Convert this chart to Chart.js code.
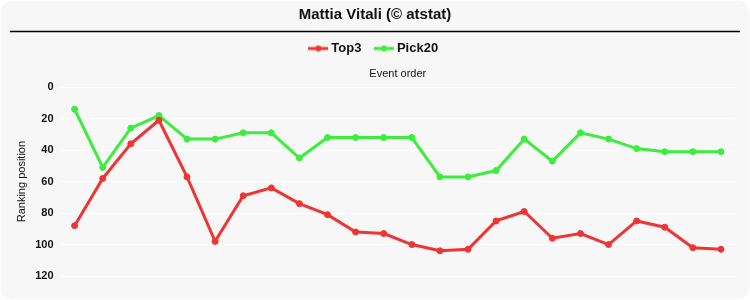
<!DOCTYPE html>
<html>
<head>
<meta charset="utf-8">
<script src="https://cdn.jsdelivr.net/npm/chart.js@4/dist/chart.umd.min.js"></script>
<style>
  html, body { margin: 0; padding: 0; background: #ffffff; }
  #wrap { width: 750px; height: 300px; position: relative; }
</style>
</head>
<body>
<div id="wrap"><canvas id="rankChart"></canvas></div>
<script>
// event order 1..24
const events = Array.from({ length: 24 }, (_, i) => String(i + 1));
const top3 = [88, 58, 36, 21, 57, 98, 69, 64, 74, 81, 92, 93, 100, 104, 103, 85, 79, 96, 93, 100, 85, 89, 102, 103];
const pick20 = [14, 51, 26, 18, 33, 33, 29, 29, 45, 32, 32, 32, 32, 57, 57, 53, 33, 47, 29, 33, 39, 41, 41, 41];
const yTicks = [0, 20, 40, 60, 80, 100, 120];

const RED = '#ef3434';
const GREEN = '#3ded3d';
const sans = "'Liberation Sans', Arial, sans-serif";

// little "line with a dot" marker for the legend
function legendMarker(color) {
  const c = document.createElement('canvas');
  c.width = 20;
  c.height = 8;
  const g = c.getContext('2d');
  g.strokeStyle = color;
  g.lineWidth = 3;
  g.beginPath();
  g.moveTo(0, 4);
  g.lineTo(20, 4);
  g.stroke();
  g.fillStyle = color;
  g.beginPath();
  g.arc(10, 4, 3, 0, Math.PI * 2);
  g.fill();
  return c;
}

// panel background + title underline
const panelPlugin = {
  id: 'panel',
  beforeDraw(chart) {
    const ctx = chart.ctx;
    ctx.save();
    ctx.fillStyle = '#f7f7f7';
    ctx.beginPath();
    ctx.roundRect(0.5, 0.5, chart.width - 1, chart.height - 1, 12);
    ctx.fill();
    ctx.restore();
  },
  afterDraw(chart) {
    const ctx = chart.ctx;
    ctx.save();
    ctx.strokeStyle = '#000000';
    ctx.lineWidth = 1.5;
    ctx.beginPath();
    ctx.moveTo(10, 31.5);
    ctx.lineTo(740, 31.5);
    ctx.stroke();
    ctx.restore();
  }
};

const rankCtx = document.getElementById('rankChart');
const rankChart = new Chart(rankCtx, {
  type: 'line',
  data: {
    labels: events,
    datasets: [
      {
        label: 'Top3',
        data: top3,
        borderColor: RED,
        backgroundColor: RED,
        borderWidth: 3,
        pointRadius: 3,
        pointBorderWidth: 1,
        pointHoverRadius: 4,
        pointStyle: 'circle',
        tension: 0
      },
      {
        label: 'Pick20',
        data: pick20,
        borderColor: GREEN,
        backgroundColor: GREEN,
        borderWidth: 3,
        pointRadius: 3,
        pointBorderWidth: 1,
        pointHoverRadius: 4,
        pointStyle: 'circle',
        tension: 0
      }
    ]
  },
  options: {
    responsive: true,
    maintainAspectRatio: false,
    animation: false,
    layout: { padding: { left: 15, right: 15, top: 0, bottom: 24 } },
    plugins: {
      title: {
        display: true,
        text: 'Mattia Vitali (© atstat)',
        color: '#111111',
        font: { family: sans, size: 15, weight: 'bold' },
        padding: { top: 6, bottom: 2 }
      },
      legend: {
        position: 'top',
        labels: {
          color: '#111111',
          font: { family: sans, size: 13, weight: 'bold' },
          boxWidth: 20,
          boxHeight: 8,
          padding: 16,
          usePointStyle: true,
          generateLabels: chart => chart.data.datasets.map((ds, i) => ({
            text: ds.label,
            fontColor: '#111111',
            pointStyle: legendMarker(ds.borderColor),
            datasetIndex: i,
            hidden: false,
            lineWidth: 0
          }))
        }
      },
      tooltip: { enabled: false }
    },
    scales: {
      x: {
        position: 'top',
        offset: true,
        title: {
          display: true,
          text: 'Event order',
          color: '#111111',
          font: { family: sans, size: 11 },
          padding: { top: 2, bottom: 7 }
        },
        ticks: { display: false },
        grid: { display: false, drawTicks: false, tickLength: 0 },
        border: { display: false }
      },
      y: {
        reverse: true,
        min: 0,
        max: 120,
        afterBuildTicks: axis => { axis.ticks = yTicks.map(v => ({ value: v })); },
        title: {
          display: true,
          text: 'Ranking position',
          color: '#111111',
          font: { family: sans, size: 11 },
          padding: { top: 0, bottom: 0 }
        },
        ticks: {
          color: '#111111',
          font: { family: sans, size: 11, weight: 'bold' },
          padding: 7
        },
        grid: { color: '#ffffff', lineWidth: 1, drawTicks: false },
        border: { display: false }
      }
    }
  },
  plugins: [panelPlugin]
});
</script>
</body>
</html>
